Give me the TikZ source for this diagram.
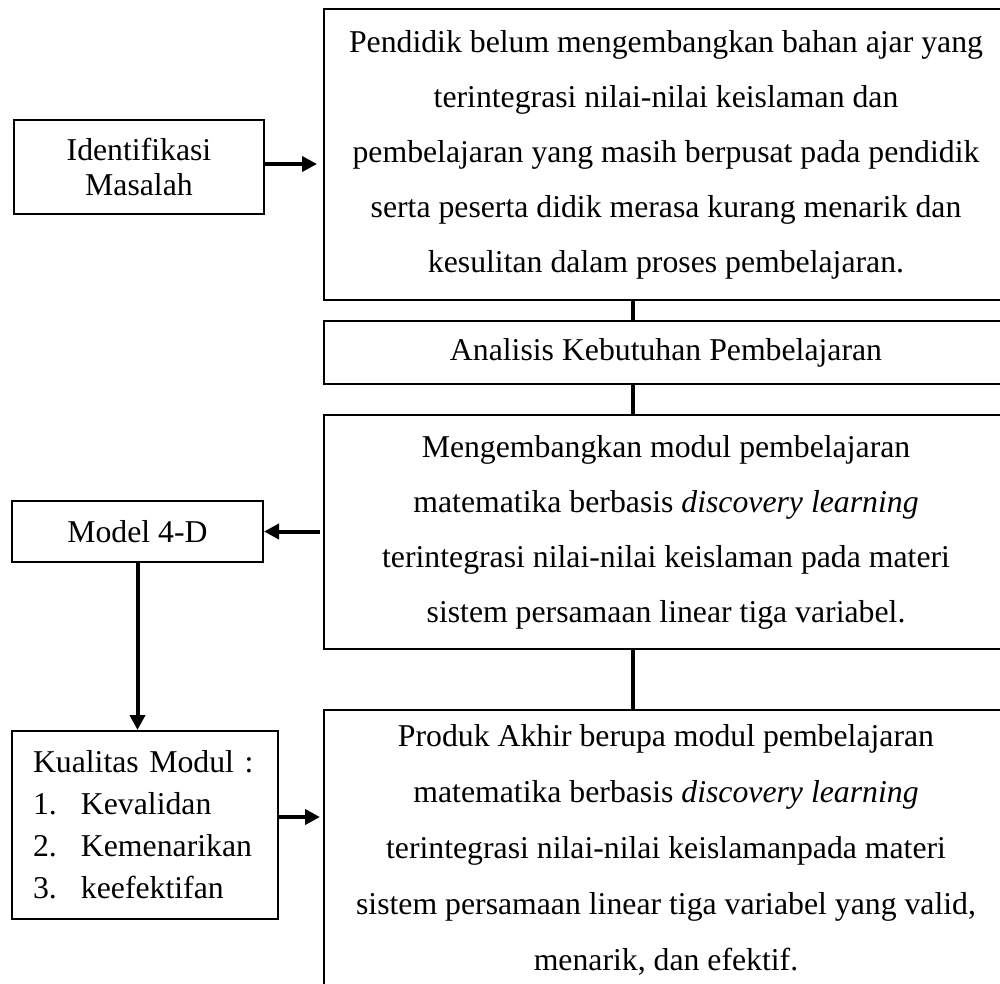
\documentclass[tikz,border=0pt]{standalone}
\usepackage{fontspec}
\setmainfont{Liberation Serif}
\usetikzlibrary{arrows.meta}
\begin{document}
\begin{tikzpicture}[x=0.4pt,y=-0.4pt,
  box/.style={draw, line width=0.8pt, inner sep=0pt, anchor=north west, align=center},
  big/.style={font=\fontsize{12.7}{22}\selectfont},
  conn/.style={line width=1.4pt},
  arr/.style={line width=1.6pt, -{Triangle[length=6pt,width=6pt]}}]
\useasboundingbox (0,0) rectangle (1000,983);
\clip (0,0) rectangle (1000,983);
\fill[white] (0,0) rectangle (1000,983);
% right column
\node[box, big, minimum width=273.6pt, minimum height=116.4pt] (p) at (323,8)
  {Pendidik belum mengembangkan bahan ajar yang\\terintegrasi nilai-nilai keislaman dan\\pembelajaran yang masih berpusat pada pendidik\\serta peserta didik merasa kurang menarik dan\\kesulitan dalam proses pembelajaran.};
\node[box, big, minimum width=273.6pt, minimum height=25.2pt] (a) at (323,320)
  {Analisis Kebutuhan Pembelajaran};
\node[box, big, minimum width=273.6pt, minimum height=93.6pt] (m) at (323,414)
  {Mengembangkan modul pembelajaran\\matematika berbasis \textit{discovery learning}\\terintegrasi nilai-nilai keislaman pada materi\\sistem persamaan linear tiga variabel.};
\node[box, font=\fontsize{12.7}{22.4}\selectfont, minimum width=273.6pt, minimum height=112pt] (r) at (323,709)
  {Produk Akhir berupa modul pembelajaran\\matematika berbasis \textit{discovery learning}\\terintegrasi nilai-nilai keislamanpada materi\\sistem persamaan linear tiga variabel yang valid,\\menarik, dan efektif.};
% left column
\node[box, font=\fontsize{12.7}{14}\selectfont, minimum width=100pt, minimum height=37.6pt] (i) at (13,119)
  {Identifikasi\\Masalah};
\node[box, font=\fontsize{12.7}{14}\selectfont, minimum width=100.4pt, minimum height=24.4pt] (d) at (11,500)
  {Model 4-D};
\node[box, font=\fontsize{12.7}{16.8}\selectfont, align=left, inner xsep=8.4pt, text width=89.6pt, minimum height=75.2pt] (k) at (11,730)
  {Kualitas Modul :\\\makebox[19.2pt][l]{1.}Kevalidan\\\makebox[19.2pt][l]{2.}Kemenarikan\\\makebox[19.2pt][l]{3.}keefektifan};
% connectors
\coordinate (cx) at (633,0);
\draw[conn] (p.south -| cx) -- (a.north -| cx);
\draw[conn] (a.south -| cx) -- (m.north -| cx);
\draw[conn] (m.south -| cx) -- (r.north -| cx);
\draw[arr, shorten >=2.4pt] ([yshift=1.2pt]i.east) -- ([yshift=1.2pt]p.west |- i.east);
\draw[arr, shorten <=1.2pt] (m.west |- d.east) -- (d.east);
\draw[arr] (d.south) -- (d.south |- k.north);
\draw[arr, shorten >=1.2pt] ([yshift=3.2pt]k.east) -- ([yshift=3.2pt]r.west |- k.east);
\end{tikzpicture}
\end{document}
